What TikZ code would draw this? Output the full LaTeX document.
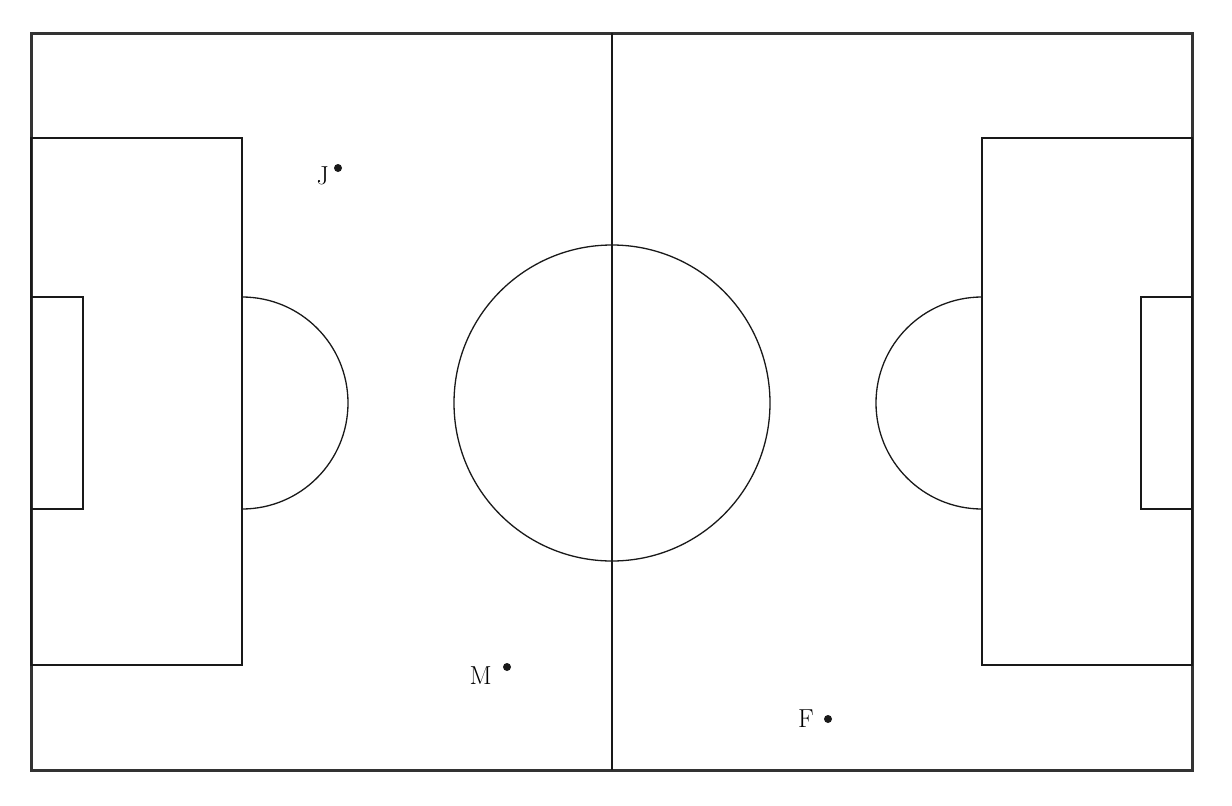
\documentclass[tikz,border=0pt]{standalone}
\begin{document}
\begin{tikzpicture}[x=1pt,y=-1pt]
  \tikzstyle{every node}=[font=\fontsize{26}{30}\selectfont]
  \tikzstyle{pitch}=[line width=1.3pt,draw=black!90]
  \tikzstyle{player}=[circle,fill=black!90,inner sep=0pt,minimum size=8pt]
 \useasboundingbox (0,0) rectangle (1232,806);
 % outer lines and halfway line
 \draw[line width=3pt,draw=black!80] (31,33) rectangle (1192,770);
 \draw[pitch] (612,33) -- (612,770);
 % penalty and goal areas
 \draw[pitch] (31,138) rectangle (242,665);
 \draw[pitch] (31,297) rectangle (83,509);
 \draw[pitch] (1192,138) rectangle (982,665);
 \draw[pitch] (1192,297) rectangle (1141,509);
 % arcs and centre circle
 \draw[pitch] (242,297) arc (-90:90:106);
 \draw[pitch] (982,297) arc (-90:-270:106);
 \draw[pitch] (612,403) circle (158);
 % players
 \node[player] (J) at (338,168) {};
 \node[player] (M) at (507,667) {};
 \node[player] (F) at (828,719) {};
 \node[anchor=base east,inner sep=0pt] (Jl) at (329,184) {J};
 \node[anchor=base east,inner sep=0pt] (Ml) at (492,684) {M};
 \node[anchor=base east,inner sep=0pt] (Fl) at (814,727) {F};
\end{tikzpicture}
\end{document}
